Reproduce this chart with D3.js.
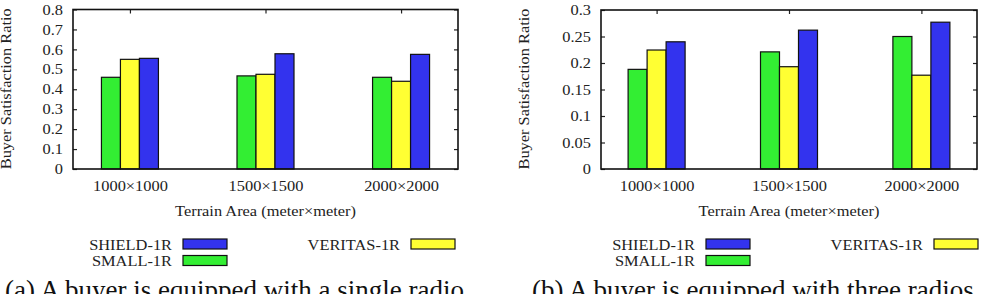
<!DOCTYPE html>
<html lang="en">
  <head>
    <meta charset="UTF-8" />
    <title>Buyer Satisfaction Ratio</title>
    <style>
      body { margin: 0; background: #fff; }
      svg { display: block; font-family: "Liberation Serif", "Times New Roman", serif; }
    </style>
  </head>
  <body>
    <script src="https://cdn.jsdelivr.net/npm/d3@7/dist/d3.min.js"></script>
    <script>
    // data
    var categories = ["1000\u00d71000", "1500\u00d71500", "2000\u00d72000"];
    var seriesNames = ["SMALL-1R", "VERITAS-1R", "SHIELD-1R"];
    var seriesColors = ["#33ee33", "#ffff33", "#3333ee"];

    // panel (a): single radio
    var smallA   = [0.46, 0.467, 0.46];
    var veritasA = [0.55, 0.475, 0.44];
    var shieldA  = [0.555, 0.578, 0.575];
    var yTicksA  = [0, 0.1, 0.2, 0.3, 0.4, 0.5, 0.6, 0.7, 0.8];

    // panel (b): three radios
    var smallB   = [0.188, 0.221, 0.250];
    var veritasB = [0.2245, 0.193, 0.177];
    var shieldB  = [0.240, 0.262, 0.277];
    var yTicksB  = [0, 0.05, 0.1, 0.15, 0.2, 0.25, 0.3];

    var captions = ["(a) A buyer is equipped with a single radio",
                    "(b) A buyer is equipped with three radios"];

    var W = 983, H = 294;
    var FS = 14.5;   // label font size
    var K = 1.13;    // the source text is a bit wider than it is tall
    var svg = d3.select("body").append("svg")
      .attr("width", W)
      .attr("height", H);

    // move x/y into a transform so the glyphs can be widened
    function widen(sel) {
      sel.each(function() {
        var t = d3.select(this);
        var x = +t.attr("x") || 0, y = +t.attr("y") || 0;
        t.attr("x", 0).attr("y", 0)
         .attr("transform", "translate(" + x + "," + y + ") scale(" + K + ",1)");
      });
    }

    function drawPanel(p) {
      var g = svg.append("g");
      var x = d3.scaleLinear().domain([-0.42, 2.42]).range([p.left, p.right]);
      var y = d3.scaleLinear().domain([0, p.ymax]).range([p.bottom, p.top]);
      var barW = 19;
      var series = [p.small, p.veritas, p.shield];

      // bottom axis (ticks sit under the bars)
      var xAxis = d3.axisBottom(x).tickValues([0, 1, 2])
        .tickFormat(function(d) { return categories[d]; })
        .tickSize(0).tickPadding(12);
      var xa = g.append("g").attr("transform", "translate(0," + p.bottom + ")").call(xAxis);
      xa.select(".domain").remove();
      xa.selectAll("text").attr("font-size", FS).attr("font-family", "Liberation Serif").attr("fill", "#222")
        .call(widen);

      // bars
      series.forEach(function(vals, s) {
        g.selectAll(null)
          .data(vals)
          .enter()
          .append("rect")
          .attr("x", function(d, i) { return x(i) + (s - 1.5) * barW; })
          .attr("y", function(d) { return y(d); })
          .attr("width", barW)
          .attr("height", function(d) { return y(0) - y(d); })
          .attr("fill", seriesColors[s])
          .attr("stroke", "#111")
          .attr("stroke-width", 1.2);
      });

      // left axis
      var yAxis = d3.axisLeft(y).tickValues(p.yTicks)
        .tickSize(-4).tickPadding(10)
        .tickFormat(function(d) { return String(+d.toFixed(2)); });
      var ya = g.append("g").attr("transform", "translate(" + p.left + ",0)").call(yAxis);
      ya.select(".domain").remove();
      ya.selectAll("text").attr("font-size", FS).attr("font-family", "Liberation Serif").attr("fill", "#222")
        .call(widen);

      // right mirror ticks
      var yr = g.append("g").attr("transform", "translate(" + p.right + ",0)")
        .call(d3.axisRight(y).tickValues(p.yTicks).tickSize(-4).tickFormat(""));
      yr.select(".domain").remove();

      // top mirror ticks
      var xt = g.append("g").attr("transform", "translate(0," + p.top + ")")
        .call(d3.axisTop(x).tickValues([0, 1, 2]).tickSize(-4).tickFormat(""));
      xt.select(".domain").remove();

      g.selectAll(".tick line").attr("stroke", "#222").attr("stroke-width", 1.2);

      // frame
      g.append("rect")
        .attr("x", p.left).attr("y", p.top)
        .attr("width", p.right - p.left).attr("height", p.bottom - p.top)
        .attr("fill", "none").attr("stroke", "#111").attr("stroke-width", 1.6);

      // axis titles
      g.append("text")
        .attr("transform", "translate(" + p.ylabX + "," + ((p.top + p.bottom) / 2 - 0.5) + ") rotate(-90) scale(" + K + ",1)")
        .attr("text-anchor", "middle")
        .attr("font-size", FS)
        .attr("fill", "#222")
        .text("Buyer Satisfaction Ratio");
      g.append("text")
        .attr("x", (p.left + p.right) / 2).attr("y", 215.5)
        .attr("text-anchor", "middle")
        .attr("font-size", FS)
        .attr("fill", "#222")
        .text("Terrain Area (meter\u00d7meter)")
        .call(widen);

      // legend
      var legend = [
        { name: seriesNames[2], color: seriesColors[2], tx: p.leg1, ty: 244 },
        { name: seriesNames[0], color: seriesColors[0], tx: p.leg1, ty: 260.5 },
        { name: seriesNames[1], color: seriesColors[1], tx: p.leg2, ty: 244 }
      ];
      var lg = g.selectAll(".leg").data(legend).enter().append("g").attr("class", "leg");
      lg.append("text")
        .attr("x", function(d) { return d.tx; })
        .attr("y", function(d) { return d.ty + 5.5; })
        .attr("text-anchor", "end")
        .attr("font-size", FS)
        .attr("fill", "#222")
        .text(function(d) { return d.name; })
        .call(widen);
      lg.append("rect")
        .attr("x", function(d) { return d.tx + 11; })
        .attr("y", function(d) { return d.ty - 5; })
        .attr("width", 44).attr("height", 10)
        .attr("fill", function(d) { return d.color; })
        .attr("stroke", "#111").attr("stroke-width", 1.2);

      // caption (cut by the bottom edge, as in the source)
      g.append("text")
        .attr("x", p.capX).attr("y", 298.5)
        .attr("font-size", 27)
        .attr("fill", "#111")
        .text(p.caption);
    }

    drawPanel({ left: 73, right: 458, top: 9.5, bottom: 169, ymax: 0.8, yTicks: yTicksA,
                small: smallA, veritas: veritasA, shield: shieldA,
                ylabX: 10.5, leg1: 172, leg2: 400, capX: 5, caption: captions[0] });
    drawPanel({ left: 601, right: 977, top: 10, bottom: 169, ymax: 0.3, yTicks: yTicksB,
                small: smallB, veritas: veritasB, shield: shieldB,
                ylabX: 528.5, leg1: 695, leg2: 923, capX: 532, caption: captions[1] });
    </script>
  </body>
</html>
